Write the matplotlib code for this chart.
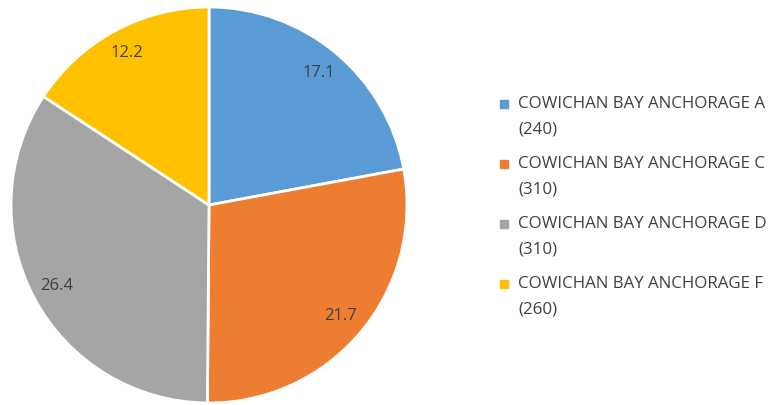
import matplotlib.pyplot as plt
from matplotlib.lines import Line2D
from matplotlib.legend_handler import HandlerLine2D

names = ["COWICHAN BAY ANCHORAGE A", "COWICHAN BAY ANCHORAGE C",
         "COWICHAN BAY ANCHORAGE D", "COWICHAN BAY ANCHORAGE F"]
codes = ["240", "310", "310", "260"]
values = [17.1, 21.7, 26.4, 12.2]
colors = ["#5b9bd5", "#ed7d31", "#a5a5a5", "#ffc000"]

plt.rcParams['font.family'] = ['Open Sans', 'DejaVu Sans']


class FirstLineHandler(HandlerLine2D):
    # put the marker next to the first line of a two-line label
    def create_artists(self, legend, orig_handle, xdescent, ydescent,
                       width, height, fontsize, trans):
        return super().create_artists(legend, orig_handle, xdescent,
                                      ydescent - 1.55 * fontsize, width,
                                      height, fontsize, trans)


fig = plt.figure(figsize=(7.72, 4.05), dpi=100)
ax = fig.add_axes([11/772, 2/405, 396/772, 396/405])

total = sum(values)
wedges, texts, autotexts = ax.pie(
    values, colors=colors, startangle=90, counterclock=False,
    autopct=lambda p: "%.1f" % (p * total / 100), pctdistance=0.87,
    wedgeprops=dict(edgecolor="white", linewidth=2),
    textprops=dict(color="#404040", fontsize=12))
ax.set_xlim(-1.0, 1.0)
ax.set_ylim(-1.0, 1.0)
ax.set_aspect("equal")

handles = [Line2D([], [], marker="s", linestyle="", markersize=6,
                  markerfacecolor=c, markeredgecolor=c) for c in colors]
labels = [n + "\n(" + c + ")" for n, c in zip(names, codes)]
leg = fig.legend(handles, labels, loc="upper left",
                 bbox_to_anchor=(490/772, 1 - 88/405), frameon=False,
                 fontsize=12.2, labelcolor="#404040", handlelength=0.7,
                 handletextpad=0.45, labelspacing=1.12, borderpad=0,
                 handler_map={Line2D: FirstLineHandler()})
for t in leg.get_texts():
    t.set_linespacing(1.75)

fig.savefig("out.png", dpi=100)
